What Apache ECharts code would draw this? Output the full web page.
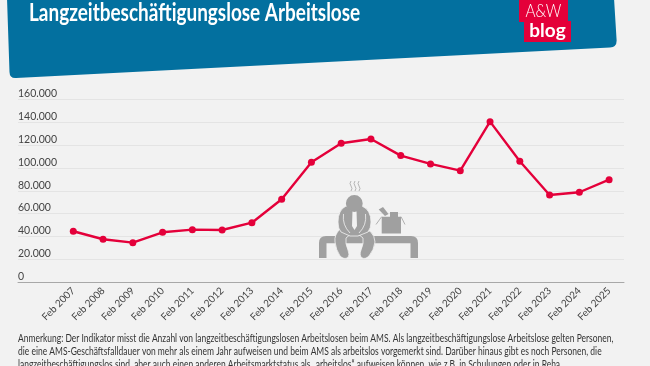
<!DOCTYPE html>
<html>
<head>
<meta charset="utf-8">
<style>
  html, body { margin: 0; padding: 0; background: #f2f2f2; overflow: hidden; }
  #chart { width: 650px; height: 366px; }
</style>
<script src="https://cdn.jsdelivr.net/npm/echarts@6/dist/echarts.min.js"></script>
</head>
<body>
<div id="chart"></div>
<script>
const categories = ["Feb 2007", "Feb 2008", "Feb 2009", "Feb 2010", "Feb 2011", "Feb 2012", "Feb 2013", "Feb 2014", "Feb 2015", "Feb 2016", "Feb 2017", "Feb 2018", "Feb 2019", "Feb 2020", "Feb 2021", "Feb 2022", "Feb 2023", "Feb 2024", "Feb 2025"];
const values = [44500, 37500, 34500, 43600, 45900, 45600, 52000, 72500, 105000, 121600, 125400, 110800, 103500, 97600, 140600, 105900, 76300, 78700, 89700];
const titleText = "Langzeitbeschäftigungslose Arbeitslose";
const noteLines = [
  "Anmerkung: Der Indikator misst die Anzahl von langzeitbeschäftigungslosen Arbeitslosen beim AMS. Als langzeitbeschäftigungslose Arbeitslose gelten Personen,",
  "die eine AMS-Geschäftsfalldauer von mehr als einem Jahr aufweisen und beim AMS als arbeitslos vorgemerkt sind. Darüber hinaus gibt es noch Personen, die",
  "langzeitbeschäftigungslos sind, aber auch einen anderen Arbeitsmarktstatus als „arbeitslos“ aufweisen können, wie z.B. in Schulungen oder in Reha."
];

const textFont = "Lato";
const grey = "#a0a0a0";
const paper = "#f2f2f2";

let chart = echarts.init(document.getElementById("chart"));

function pathEl(pathData, style) {
  return { type: "path", shape: { pathData: pathData }, style: style };
}

// header band and the little figure on the bench, drawn in page pixels
function renderDecor() {
  let outline = { fill: grey, stroke: paper, lineWidth: 0.8 };
  return {
    type: "group",
    children: [
      pathEl("M7 -2 L9.5 72 Q9.7 78.5 16 78 L610 47.5 Q617 47 616.6 40 L614 -2 Z", { fill: "#03709f" }),
      // steam
      pathEl("M351 181 q-2 2.5 0 5 q2 2.5 0 5 M355 181 q-2 2.5 0 5 q2 2.5 0 5 M359 181 q-2 2.5 0 5 q2 2.5 0 5", { fill: null, stroke: "#b5b5b5", lineWidth: 1 }),
      // bench
      pathEl("M319 258 L319 243 Q319 236 326 236 L411 236 Q418 236 418 243 L418 258 L410.5 258 L410.5 243.3 L326.5 243.3 L326.5 258 Z", { fill: grey }),
      // box
      pathEl("M381.7 216.7 L401 216.7 L401 233.5 L381.7 233.5 Z M390 212 L398 212 L398 216.7 L390 216.7 Z M378.7 209.5 L383 207 L388.5 214 L385 216 Z", { fill: grey }),
      pathEl("M381.7 216.7 L376 224.5 M401 216.7 L405 224.5", { fill: null, stroke: grey, lineWidth: 0.8 }),
      // legs
      pathEl("M340 229 Q334 235 335 242 Q336 250 340 256 Q344 260 348 257.5 Q350 255 348 250 Q345 243 346 238 L352 233 Z", outline),
      pathEl("M370 231 Q375 236 375 242 Q374 250 369 256 Q365 260 361.5 257.5 Q359 255 361 250 Q364 243 363 238 L357 233 Z", outline),
      // body
      pathEl("M346 206 Q338 210 338 222 Q338 229 341 232 L350 236 L358 236 L368 232 Q371 228 371 222 Q371 210 362 206 Q354 216 346 206 Z", outline),
      pathEl("M352.5 211 L356.5 211 L357 226 L354.5 230 L352 226 Z", { fill: paper }),
      pathEl("M343.5 214 Q342 225 350 233 M365.5 214 Q367 225 359 233", { fill: null, stroke: paper, lineWidth: 0.8 }),
      { type: "circle", shape: { cx: 354.3, cy: 203.5, r: 8.4 }, style: { fill: grey } }
    ]
  };
}

let graphics = [
  { type: "text", z: 20, x: 29, y: 13, scaleX: 0.79, style: { text: titleText, fill: "#fff", font: "bold 24px Lato", verticalAlign: "middle" } },
  { type: "rect", z: 20, shape: { x: 519, y: 0, width: 49, height: 22 }, style: { fill: "#e4003a" } },
  { type: "text", z: 21, x: 543.5, y: 11, scaleX: 0.85, style: { text: "A&W", fill: "#fff", font: "300 18px Lato", align: "center", verticalAlign: "middle" } },
  { type: "rect", z: 20, shape: { x: 524, y: 21, width: 47, height: 21 }, style: { fill: "#e4003a" } },
  { type: "text", z: 21, x: 547.5, y: 31, style: { text: "blog", fill: "#fff", font: "bold 19px Lato", align: "center", verticalAlign: "middle" } }
];
noteLines.forEach((line, i) => {
  graphics.push({ type: "text", z: 20, x: 18, y: 339 + i * 12.6, scaleX: 0.8, style: { text: line, fill: "#333", font: "10.6px " + textFont, verticalAlign: "middle" } });
});

chart.setOption({
  backgroundColor: paper,
  animation: false,
  graphic: graphics,
  grid: [
    // background grid carries the wide gridlines and the labels sitting on them
    { left: 18, right: 26, top: 99.5, height: 182.5 },
    // narrower grid for the line itself
    { left: 58.4, right: 26, top: 99.5, height: 182.5 }
  ],
  xAxis: [
    { gridIndex: 0, type: "category", data: [""], axisTick: { show: false }, axisLabel: { show: false }, axisLine: { show: true, lineStyle: { color: "#a8a8a8", width: 1 } } },
    {
      gridIndex: 1, type: "category", data: categories,
      axisLine: { show: false }, axisTick: { show: false },
      axisLabel: { interval: 0, rotate: 45, margin: 7, fontFamily: textFont, fontSize: 10, color: "#444" }
    }
  ],
  yAxis: [
    {
      gridIndex: 0, type: "value", min: 0, max: 160000, interval: 20000,
      axisLine: { show: false }, axisTick: { show: false },
      splitLine: { lineStyle: { color: "#e4e4e4", width: 1 } },
      axisLabel: {
        inside: true, margin: 0, verticalAlign: "bottom", padding: 0,
        fontFamily: textFont, fontSize: 10.5, color: "#444",
        formatter: v => String(v).replace(/\B(?=(\d{3})+$)/g, ".")
      }
    },
    { gridIndex: 1, type: "value", min: 0, max: 160000, interval: 20000, show: false }
  ],
  series: [
    {
      type: "custom",
      coordinateSystem: "none",
      silent: true,
      z: 1,
      data: [0],
      renderItem: renderDecor
    },
    {
      type: "line",
      xAxisIndex: 1,
      yAxisIndex: 1,
      data: values,
      symbol: "circle",
      symbolSize: 7,
      z: 5,
      lineStyle: { color: "#e4003a", width: 2.4 },
      itemStyle: { color: "#e4003a" }
    }
  ]
});
</script>
</body>
</html>
